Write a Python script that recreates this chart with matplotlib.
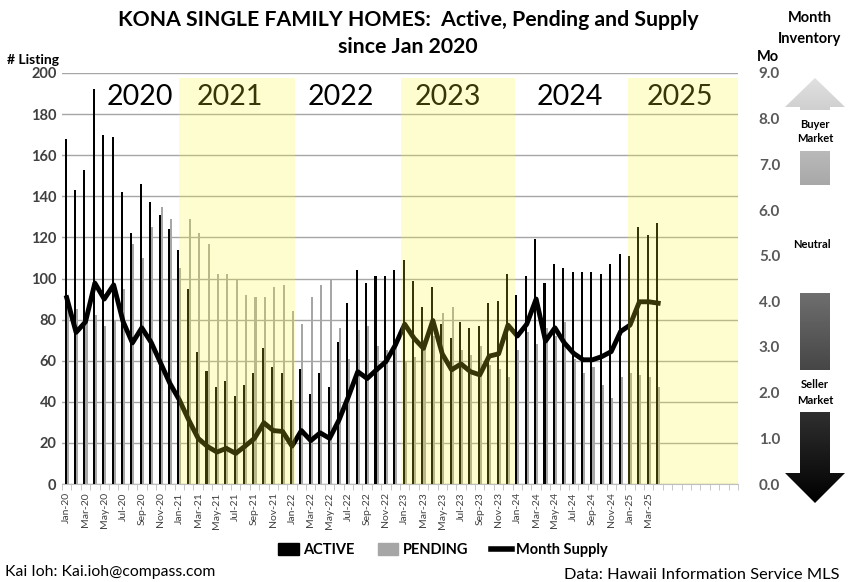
import numpy as np
import matplotlib
matplotlib.use("Agg")
import matplotlib.pyplot as plt
from matplotlib.patches import Polygon, Patch
from matplotlib.lines import Line2D
from matplotlib.colors import LinearSegmentedColormap

plt.rcParams['font.family'] = ['Lato', 'DejaVu Sans']

# ---------------- data ----------------
MONTHS = ["Jan", "Feb", "Mar", "Apr", "May", "Jun", "Jul", "Aug", "Sep", "Oct", "Nov", "Dec"]
YEARS = ["20", "21", "22", "23", "24", "25"]
categories = [f"{m}-{y}" for y in YEARS for m in MONTHS]  # Jan-20 .. Dec-25

active = [168, 143, 153, 192, 170, 169, 142, 122, 146, 137, 131, 124,
          114, 95, 64, 55, 47, 50, 43, 48, 54, 66, 57, 54,
          41, 56, 44, 54, 47, 69, 88, 104, 98, 101, 101, 104,
          109, 99, 86, 96, 78, 71, 79, 76, 77, 88, 89, 102,
          92, 101, 119, 98, 107, 105, 103, 103, 103, 102, 107, 112,
          111, 125, 121, 127]

pending = [85, 85, 80, 82, 77, 80, 95, 117, 110, 125, 135, 129,
           105, 129, 122, 117, 102, 102, 100, 92, 91, 91, 96, 97,
           84, 78, 91, 97, 100, 76, 61, 75, 77, 67, 65, 69,
           60, 62, 70, 72, 83, 86, 65, 63, 67, 58, 56, 52,
           65, 74, 68, 76, 72, 79, 61, 54, 57, 48, 42, 52,
           54, 53, 52, 47]

month_supply = [4.08, 3.32, 3.55, 4.40, 4.05, 4.36, 3.56, 3.09, 3.42, 3.10, 2.65, 2.20,
                1.84, 1.40, 1.00, 0.82, 0.70, 0.78, 0.67, 0.83, 1.00, 1.34, 1.17, 1.15,
                0.83, 1.17, 0.95, 1.12, 1.00, 1.40, 1.91, 2.46, 2.31, 2.50, 2.68, 3.04,
                3.50, 3.19, 2.97, 3.58, 2.85, 2.50, 2.63, 2.46, 2.39, 2.80, 2.85, 3.48,
                3.24, 3.50, 4.05, 3.13, 3.42, 3.09, 2.86, 2.72, 2.72, 2.79, 2.90, 3.34,
                3.48, 3.99, 3.99, 3.96]

year_labels = ["2020", "2021", "2022", "2023", "2024", "2025"]
shaded_years = ["2021", "2023", "2025"]

# ---------------- figure ----------------
W, H = 853, 582
fig = plt.figure(figsize=(W / 100, H / 100), dpi=100)
fig.patch.set_facecolor('white')

L, R, T, B = 62, 738, 73, 484
ax = fig.add_axes([L / W, 1 - B / H, (R - L) / W, (B - T) / H])
ax2 = ax.twinx()

n_cat = len(categories)
n_dat = len(active)
x = np.arange(n_dat)
bw = 0.22
ax.bar(x - 0.11, active, width=bw, color='black', zorder=3, linewidth=0)
ax.bar(x + 0.11, pending, width=bw, color='#a6a6a6', zorder=2.5, linewidth=0)

ax.set_xlim(-0.5, n_cat - 0.5)
ax.set_ylim(0, 200)
ax.set_yticks(np.arange(0, 201, 20))
ax.yaxis.grid(True, color='#a6a6a6', linewidth=1.0, zorder=0)
ax.set_axisbelow(True)
for s in ['top', 'left', 'right']:
    ax.spines[s].set_visible(False)
ax.spines['bottom'].set_color('#bfbfbf')
ax.tick_params(axis='y', length=0, pad=4, labelsize=10.5, labelcolor='#404040')
for lbl in ax.get_yticklabels():
    lbl.set_fontweight('bold')

major_idx = np.arange(0, n_dat, 2)
ax.set_xticks(major_idx)
ax.set_xticklabels([categories[i] for i in major_idx], rotation=90, fontsize=7.5,
                   color='#404040')
ax.set_xticks(np.arange(-0.5, n_cat, 1), minor=True)
ax.tick_params(axis='x', which='major', length=0, pad=6)
ax.tick_params(axis='x', which='minor', length=4, color='#bfbfbf', direction='out')

# month supply line on right axis
ax2.plot(x, month_supply, color='black', linewidth=3.5, zorder=5,
         solid_joinstyle='round')
ax2.set_ylim(0, 9)
ax2.set_yticks(np.arange(0, 9.1, 1))
ax2.set_yticklabels([f"{v:.1f}" for v in np.arange(0, 9.1, 1)])
ax2.tick_params(axis='y', length=0, pad=15, labelsize=11, labelcolor='#595959')
for lbl in ax2.get_yticklabels():
    lbl.set_fontweight('bold')
for s in ['top', 'left', 'right', 'bottom']:
    ax2.spines[s].set_visible(False)

# year labels (drawn under yellow overlay)
year_px = [140, 229.5, 340.5, 447.5, 569.7, 679.7]
px_per_cat = (R - L) / n_cat
for lab, px in zip(year_labels, year_px):
    cx = (px - L) / px_per_cat - 0.5
    ax2.text(cx, (B - 97) / (B - T) * 9, lab, ha='center', va='center',
             fontsize=20.5, color='black', zorder=4)

# translucent yellow overlays on top
spans = {"2021": (179, 295), "2023": (400.7, 514.5), "2025": (628, 738)}
for yr in shaded_years:
    p0, p1 = spans[yr]
    c0 = (p0 - L) / px_per_cat - 0.5
    c1 = (p1 - L) / px_per_cat - 0.5
    ax2.axvspan(c0, c1, ymin=0, ymax=(B - 78) / (B - T), color=(0.98, 0.98, 0.15),
                alpha=0.22, linewidth=0, zorder=10)

# ---------------- text ----------------
def ftext(px, py, s, **kw):
    fig.text(px / W, 1 - py / H, s, **kw)

ftext(408, 20, "KONA SINGLE FAMILY HOMES:  Active, Pending and Supply",
      ha='center', va='center', fontsize=15.3, fontweight='bold')
ftext(408, 47, "since Jan 2020", ha='center', va='center', fontsize=15.3, fontweight='bold')
ftext(33, 60, "# Listing", ha='center', va='center', fontsize=10, fontweight='bold')
ftext(768, 57, "Mo", ha='center', va='center', fontsize=10.5, fontweight='bold')
ftext(810, 18, "Month", ha='center', va='center', fontsize=10.5, fontweight='bold')
ftext(810, 39, "Inventory", ha='center', va='center', fontsize=10.5, fontweight='bold')
ftext(5, 572, "Kai Ioh: Kai.ioh@compass.com", ha='left', va='center', fontsize=11.3)
ftext(840, 575, "Data: Hawaii Information Service MLS", ha='right', va='center', fontsize=11.8)

# legend
handles = [Patch(color='black'), Patch(color='#a6a6a6'),
           Line2D([0], [0], color='black', linewidth=4)]
fig.legend(handles, ["ACTIVE", "PENDING", "Month Supply"], loc='center',
           bbox_to_anchor=(443 / W, 1 - 550 / H), ncol=3, frameon=False,
           prop={'weight': 'bold', 'size': 10.5}, handlelength=1.4, handleheight=0.9,
           columnspacing=1.6, handletextpad=0.3)

# ---------------- inventory arrow graphic ----------------
ov = fig.add_axes([0, 0, 1, 1], zorder=20)
ov.set_xlim(0, W)
ov.set_ylim(H, 0)
ov.axis('off')
ov.patch.set_alpha(0)

cmap = LinearSegmentedColormap.from_list('g', ['#e0e0e0', '#000000'])
grad = np.linspace(0, 1, 256)[:, None]
gy0, gy1 = 78, 503
cx0 = 815
pieces = [
    [(785, 107), (cx0, 78), (845, 107), (830, 107), (830, 110), (800, 110), (800, 107)],
    [(800, 151), (830, 151), (830, 185), (800, 185)],
    [(800, 293), (830, 293), (830, 370), (800, 370)],
    [(800, 412), (830, 412), (830, 473), (845, 473), (cx0, 503), (785, 473), (800, 473)],
]
for verts in pieces:
    poly = Polygon(verts, closed=True, facecolor='none', edgecolor='none')
    ov.add_patch(poly)
    im = ov.imshow(grad, extent=(780, 850, gy1, gy0), cmap=cmap, aspect='auto',
                   origin='upper', vmin=0, vmax=1)
    im.set_clip_path(poly)
ov.set_xlim(0, W)
ov.set_ylim(H, 0)

ov.text(815, 124, "Buyer", ha='center', va='center', fontsize=8, fontweight='bold')
ov.text(815, 138, "Market", ha='center', va='center', fontsize=8, fontweight='bold')
ov.text(812, 245, "Neutral", ha='center', va='center', fontsize=8, fontweight='bold')
ov.text(815, 385, "Seller", ha='center', va='center', fontsize=8, fontweight='bold')
ov.text(815, 400, "Market", ha='center', va='center', fontsize=8, fontweight='bold')

fig.savefig("out.png", dpi=100, facecolor='white')
